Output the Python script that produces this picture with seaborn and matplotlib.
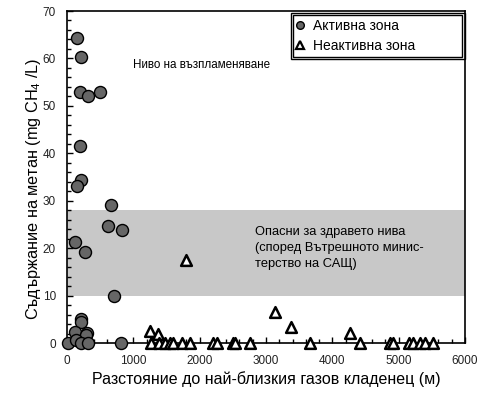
import matplotlib
matplotlib.use("Agg")
import matplotlib.pyplot as plt
from matplotlib.patches import Rectangle
from matplotlib.lines import Line2D
from matplotlib.ticker import MultipleLocator
import seaborn as sns
import pandas as pd

# ---- data ----
active_x = [150, 210, 195, 315, 500, 195, 210, 150, 665, 620, 830, 120, 270, 710,
            210, 215, 120, 305, 290, 20, 135, 205, 320, 815]
active_y = [64.3, 60.3, 53.0, 52.1, 53.0, 41.6, 34.3, 33.2, 29.0, 24.6, 23.9, 21.4, 19.1, 9.9,
            5.0, 4.5, 2.4, 2.2, 1.6, 0.1, 0.6, 0.1, 0.1, 0.1]
inactive_x = [1250, 1375, 1260, 1380, 1480, 1550, 1600, 1730, 1855, 2205, 2255, 2500, 2535, 2760,
              1795, 3135, 3380, 3665, 4270, 4420, 4870, 4920, 5150, 5220, 5320, 5400, 5525]
inactive_y = [2.6, 1.9, 0, 0, 0, 0, 0, 0, 0, 0, 0, 0, 0, 0,
              17.4, 6.6, 3.3, 0, 2.2, 0, 0, 0, 0, 0, 0, 0, 0]
band_low, band_high = 10, 28
legend_labels = ["Активна зона", "Неактивна зона"]
xlabel = "Разстояние до най-близкия газов кладенец (м)"
ylabel = "Съдържание на метан (mg CH$_4$ /L)"
flam_text = "Ниво на възпламеняване"
band_text = "Опасни за здравето нива\n(според Вътрешното минис-\nтерство на САЩ)"

df_a = pd.DataFrame({"x": active_x, "y": active_y})
df_i = pd.DataFrame({"x": inactive_x, "y": inactive_y})

sns.set_style("white")
plt.rcParams["font.family"] = ["Liberation Sans", "DejaVu Sans"]
plt.rcParams["mathtext.fontset"] = "custom"
plt.rcParams["mathtext.rm"] = "Liberation Sans"
plt.rcParams["mathtext.it"] = "Liberation Sans:italic"
plt.rcParams["text.color"] = "black"
plt.rcParams["axes.labelcolor"] = "black"

fig = plt.figure(figsize=(4.89, 3.98), dpi=100)
ax = fig.add_axes([67/489, 1-343/398, (465-67)/489, (343-11)/398])

ax.axhspan(band_low, band_high, color="#c8c8c8", zorder=0, lw=0)

sns.scatterplot(data=df_a, x="x", y="y", ax=ax, marker="o", s=75,
                color="#666666", edgecolor="black", linewidth=1.0, zorder=3,
                clip_on=False, legend=False)
sns.scatterplot(data=df_i, x="x", y="y", ax=ax, marker="^", s=60,
                color="white", edgecolor="black", linewidth=1.8, zorder=3,
                clip_on=False, legend=False)

ax.set_xlim(0, 6000)
ax.set_ylim(0, 70)
ax.xaxis.set_major_locator(MultipleLocator(1000))
ax.xaxis.set_minor_locator(MultipleLocator(200))
ax.yaxis.set_major_locator(MultipleLocator(10))
ax.yaxis.set_minor_locator(MultipleLocator(2))
ax.tick_params(which="both", direction="in", colors="black", width=1,
               labelsize=8.5, labelcolor="#222222")
ax.tick_params(axis="x", which="both", pad=9)
ax.tick_params(axis="y", which="both", pad=8)
ax.tick_params(which="major", length=4)
ax.tick_params(which="minor", length=3)
ax.tick_params(axis="x", which="both", top=False, bottom=True)
ax.tick_params(axis="y", which="both", left=True, right=False)
for sp in ax.spines.values():
    sp.set_color("black")
    sp.set_linewidth(1.2)

ax.set_xlabel(xlabel, fontsize=11.5, labelpad=3)
ax.set_ylabel(ylabel, fontsize=11.7)
ax.yaxis.set_label_coords(-0.06, 0.464)

ax.text(1000, 58.6, flam_text, fontsize=8.4, va="center", ha="left")
ax.text(2835, 24.6, band_text, fontsize=9.3, va="top", ha="left", linespacing=1.45)

# legend with double frame
handles = [
    Line2D([], [], marker="o", ls="", markersize=5.5, markerfacecolor="#666666",
           markeredgecolor="black", markeredgewidth=1),
    Line2D([], [], marker="^", ls="", markersize=5.5, markerfacecolor="white",
           markeredgecolor="black", markeredgewidth=1.6),
]
ax.legend(handles, legend_labels, loc="upper left", bbox_to_anchor=(0.537, 1.013),
          frameon=False, fontsize=10, handlelength=1.0, handletextpad=0.4,
          labelspacing=0.4, borderpad=0.4)
ax.add_patch(Rectangle((0.563, 0.855), 1.0 - 0.563, 0.994 - 0.855, transform=ax.transAxes,
                       fill=False, ec="black", lw=1.0, zorder=5, clip_on=False))
ax.add_patch(Rectangle((0.569, 0.861), 0.992 - 0.569, 0.988 - 0.861, transform=ax.transAxes,
                       fill=False, ec="black", lw=1.0, zorder=5, clip_on=False))

fig.savefig("out.png", dpi=100)
